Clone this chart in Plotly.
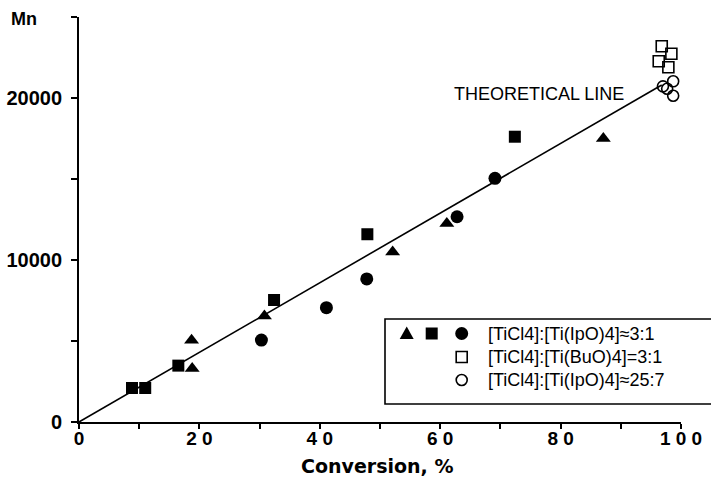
import plotly.graph_objects as go

# Mn vs. conversion data for TiCl4 / Ti(OR)4 initiated polymerisations
conv_tri = [18.7, 18.8, 30.8, 52.1, 61.1, 87.1]
mn_tri = [5050, 3300, 6550, 10500, 12250, 17500]

conv_sq = [8.8, 11.0, 16.5, 32.4, 47.9, 72.4]
mn_sq = [2100, 2100, 3480, 7530, 11590, 17610]

conv_circ = [30.3, 41.1, 47.8, 62.8, 69.1]
mn_circ = [5060, 7060, 8830, 12670, 15040]

conv_buo = [96.8, 98.4, 96.3, 97.9]
mn_buo = [23190, 22730, 22270, 21900]

conv_ipo257 = [97.0, 98.7, 97.7, 98.7]
mn_ipo257 = [20720, 21030, 20570, 20140]

# theoretical Mn line (end points)
conv_theory = [0, 96.8]
mn_theory = [0, 20800]

x_ticks = [0, 10, 20, 30, 40, 50, 60, 70, 80, 90, 100]
x_ticktext = ["0", "", "2 0", "", "4 0", "", "6 0", "", "8 0", "", "1 0 0"]
y_ticks = [0, 5000, 10000, 15000, 20000, 25000]
y_ticktext = ["0", "", "10000", "", "20000", ""]

legend_labels = [
    "[TiCl4]:[Ti(IpO)4]\u22483:1",
    "[TiCl4]:[Ti(BuO)4]=3:1",
    "[TiCl4]:[Ti(IpO)4]\u224825:7",
]

W, H = 711, 484
ML, MR, MT, MB = 79, 30, 17, 62
PW, PH = W - ML - MR, H - MT - MB


def to_paper(px, py):
    """Convert page pixel position to paper coordinates."""
    return (px - ML) / PW, (H - MB - py) / PH


fig = go.Figure()

fig.add_trace(go.Scatter(x=conv_theory, y=mn_theory, mode="lines",
                         line=dict(color="black", width=1.6), hoverinfo="skip"))

fig.add_trace(go.Scatter(x=conv_tri, y=mn_tri, mode="markers",
                         marker=dict(symbol="triangle-up", size=13, color="black",
                                     line=dict(width=0))))
fig.add_trace(go.Scatter(x=conv_sq, y=mn_sq, mode="markers",
                         marker=dict(symbol="square", size=12, color="black",
                                     line=dict(width=0))))
fig.add_trace(go.Scatter(x=conv_circ, y=mn_circ, mode="markers",
                         marker=dict(symbol="circle", size=13, color="black",
                                     line=dict(width=0))))
fig.add_trace(go.Scatter(x=conv_buo, y=mn_buo, mode="markers",
                         marker=dict(symbol="square-open", size=11, color="black",
                                     line=dict(width=1.6, color="black"))))
fig.add_trace(go.Scatter(x=conv_ipo257, y=mn_ipo257, mode="markers",
                         marker=dict(symbol="circle-open", size=11, color="black",
                                     line=dict(width=1.6, color="black"))))

x_tick_font = dict(family="Liberation Sans, Arial, sans-serif", size=19,
                   color="black", weight="bold")
y_tick_font = dict(family="Liberation Sans, Arial, sans-serif", size=20,
                   color="black", weight="bold")
text_font = dict(family="Liberation Sans, Arial, sans-serif", size=18, color="black")

fig.update_xaxes(range=[0, 100], tickmode="array", tickvals=x_ticks,
                 ticktext=x_ticktext, ticks="outside", ticklen=5, tickwidth=1.5,
                 tickcolor="black", showline=True, linecolor="black", linewidth=1.8,
                 showgrid=False, zeroline=False, tickfont=x_tick_font,
                 ticklabelstandoff=-7, automargin=False)
fig.update_yaxes(range=[0, 25000], tickmode="array", tickvals=y_ticks,
                 ticktext=y_ticktext, ticks="outside", ticklen=6, tickwidth=1.5,
                 tickcolor="black", showline=True, linecolor="black", linewidth=1.8,
                 showgrid=False, zeroline=False, tickfont=y_tick_font,
                 ticklabelstandoff=5, automargin=False)

annotations = []
mx, my = to_paper(24, 19)
annotations.append(dict(text="Mn", xref="paper", yref="paper", x=mx, y=my,
                        xanchor="center", yanchor="middle", showarrow=False,
                        font=dict(family="Liberation Sans, Arial, sans-serif",
                                  size=18, color="black", weight="bold")))
cx, cy = to_paper(377, 466)
annotations.append(dict(text="Conversion, %", xref="paper", yref="paper", x=cx, y=cy,
                        xanchor="center", yanchor="middle", showarrow=False,
                        font=dict(family="DejaVu Sans, sans-serif", size=19,
                                  color="black", weight="bold")))
annotations.append(dict(text="THEORETICAL LINE", xref="x", yref="y",
                        x=61.9, y=20230, xanchor="left", yanchor="middle",
                        showarrow=False, font=text_font))

# legend box and key
shapes = []
bx0, by0 = to_paper(385, 404)
bx1, by1 = to_paper(716, 319)
shapes.append(dict(type="rect", xref="paper", yref="paper", x0=bx0, y0=by0,
                   x1=bx1, y1=by1, line=dict(color="black", width=1.6),
                   fillcolor="white", layer="above"))


def key(kind, px, py, filled):
    ax, ay = to_paper(px, py)
    base = dict(xref="paper", yref="paper", xsizemode="pixel", ysizemode="pixel",
                xanchor=ax, yanchor=ay, layer="above",
                fillcolor="black" if filled else "rgba(0,0,0,0)",
                line=dict(color="black", width=0 if filled else 1.6))
    if kind == "tri":
        base.update(type="path", path="M -7,-5.5 L 7,-5.5 L 0,7 Z")
    elif kind == "sq":
        r = 6 if filled else 5.5
        base.update(type="rect", x0=-r, x1=r, y0=-r, y1=r)
    else:
        r = 6.5 if filled else 5.5
        base.update(type="circle", x0=-r, x1=r, y0=-r, y1=r)
    return base


row_y = [333.5, 357, 380]
shapes.append(key("tri", 406.7, row_y[0], True))
shapes.append(key("sq", 431.7, row_y[0], True))
shapes.append(key("circ", 461.7, row_y[0], True))
shapes.append(key("sq", 461.7, row_y[1], False))
shapes.append(key("circ", 461.7, row_y[2], False))

for label, ry in zip(legend_labels, row_y):
    tx, ty = to_paper(486, ry)
    annotations.append(dict(text=label, xref="paper", yref="paper", x=tx, y=ty,
                            xanchor="left", yanchor="middle", showarrow=False,
                            font=text_font))

fig.update_layout(width=W, height=H, margin=dict(l=ML, r=MR, t=MT, b=MB),
                  paper_bgcolor="white", plot_bgcolor="white", showlegend=False,
                  annotations=annotations, shapes=shapes)

fig.write_html("out.html")
